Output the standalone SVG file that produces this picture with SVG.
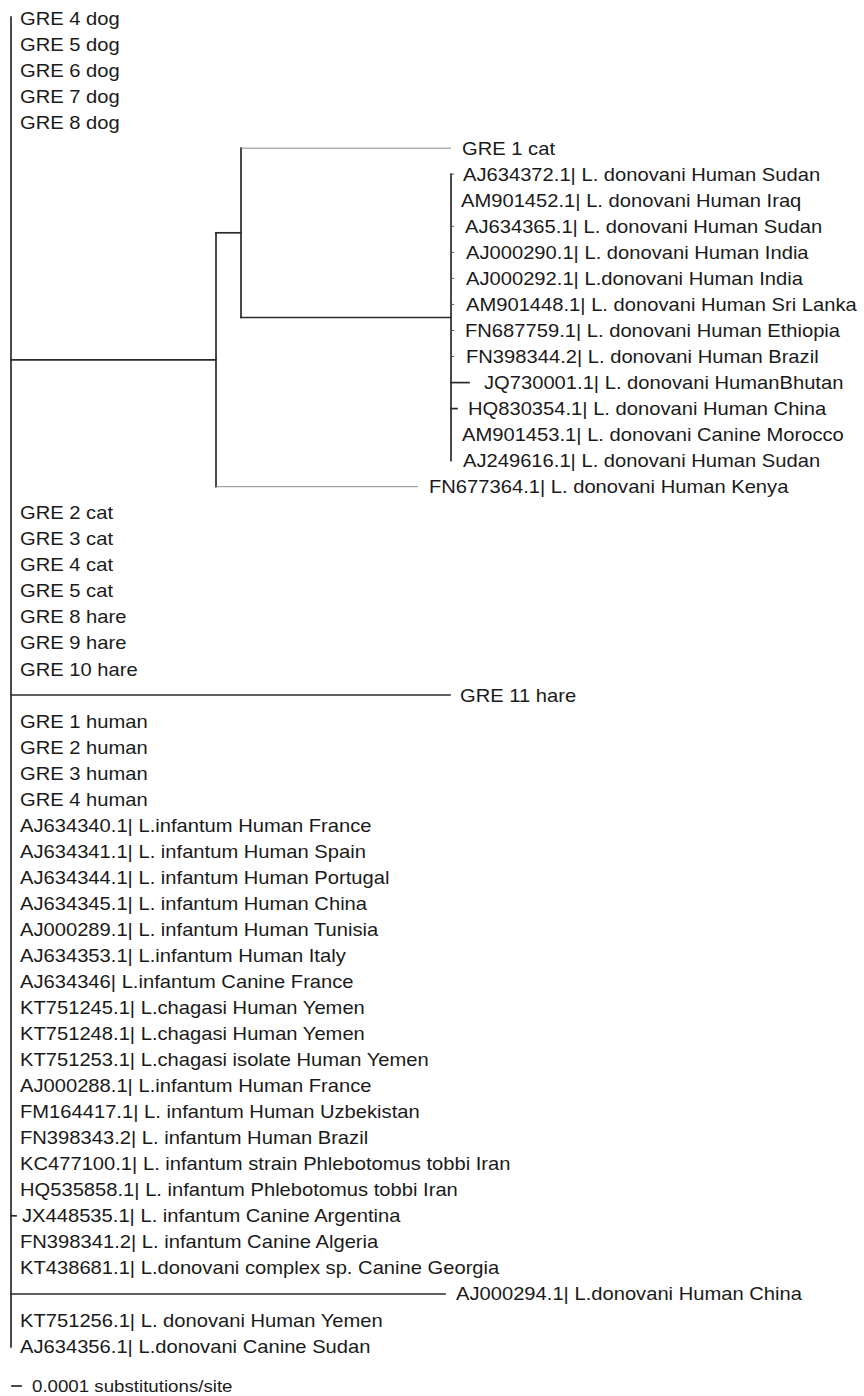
<svg xmlns="http://www.w3.org/2000/svg" width="864" height="1396" viewBox="0 0 864 1396">
<style>
text{font-family:"Liberation Sans",Arial,Helvetica,sans-serif;font-size:18px;fill:#1a1a1a}
.sc{font-size:17px}
.br{stroke:#2a2a2a;stroke-width:1.7;fill:none;stroke-linecap:square}
.th{stroke:#8a8a8a;stroke-width:1;fill:none}
.tk{stroke:#555;stroke-width:1;fill:none}
</style>
<rect width="864" height="1396" fill="#fff"/>
<g id="connectors">
<line class="br" x1="11" y1="17" x2="11" y2="1347"/>
<line class="br" x1="11" y1="359.8" x2="216" y2="359.8"/>
<line class="br" x1="216" y1="232.8" x2="216" y2="486.7"/>
<line class="br" x1="216" y1="232.8" x2="241" y2="232.8"/>
<line class="th" x1="216" y1="486.7" x2="418" y2="486.7"/>
<line class="br" x1="241" y1="148.2" x2="241" y2="317.5"/>
<line class="th" x1="241" y1="148.2" x2="451" y2="148.2"/>
<line class="br" x1="241" y1="317.5" x2="451" y2="317.5"/>
<line class="br" x1="451" y1="174.2" x2="451" y2="460.7"/>
<line class="tk" x1="451" y1="174.2" x2="454" y2="174.2"/>
<line class="tk" x1="451" y1="226.3" x2="454" y2="226.3"/>
<line class="tk" x1="451" y1="252.4" x2="454" y2="252.4"/>
<line class="tk" x1="451" y1="278.4" x2="454" y2="278.4"/>
<line class="tk" x1="451" y1="304.4" x2="454" y2="304.4"/>
<line class="tk" x1="451" y1="330.5" x2="454" y2="330.5"/>
<line class="tk" x1="451" y1="356.5" x2="454" y2="356.5"/>
<line class="br" x1="451" y1="382.6" x2="469" y2="382.6"/>
<line class="br" x1="451" y1="408.6" x2="457" y2="408.6"/>
<line class="br" x1="11" y1="695" x2="450" y2="695"/>
<line class="br" x1="11" y1="1215.8" x2="16" y2="1215.8"/>
<line class="br" x1="11" y1="1294" x2="445" y2="1294"/>
<line class="br" x1="12" y1="1386" x2="21" y2="1386"/>
</g>
<g id="n01" transform="translate(20,24.5) scale(1.12,1)"><text>GRE 4 dog</text></g>
<g id="n02" transform="translate(20,50.54) scale(1.12,1)"><text>GRE 5 dog</text></g>
<g id="n03" transform="translate(20,76.58) scale(1.12,1)"><text>GRE 6 dog</text></g>
<g id="n04" transform="translate(20,102.62) scale(1.12,1)"><text>GRE 7 dog</text></g>
<g id="n05" transform="translate(20,128.66) scale(1.12,1)"><text>GRE 8 dog</text></g>
<g id="n06" transform="translate(462,154.7) scale(1.12,1)"><text>GRE 1 cat</text></g>
<g id="n07" transform="translate(463,180.74) scale(1.12,1)"><text>AJ634372.1| L. donovani Human Sudan</text></g>
<g id="n08" transform="translate(461,206.78) scale(1.12,1)"><text>AM901452.1| L. donovani Human Iraq</text></g>
<g id="n09" transform="translate(465,232.82) scale(1.12,1)"><text>AJ634365.1| L. donovani Human Sudan</text></g>
<g id="n10" transform="translate(466,258.86) scale(1.12,1)"><text>AJ000290.1| L. donovani Human India</text></g>
<g id="n11" transform="translate(466,284.9) scale(1.12,1)"><text>AJ000292.1| L.donovani Human India</text></g>
<g id="n12" transform="translate(466,310.94) scale(1.12,1)"><text>AM901448.1| L. donovani Human Sri Lanka</text></g>
<g id="n13" transform="translate(465,336.98) scale(1.12,1)"><text>FN687759.1| L. donovani Human Ethiopia</text></g>
<g id="n14" transform="translate(466,363.02) scale(1.12,1)"><text>FN398344.2| L. donovani Human Brazil</text></g>
<g id="n15" transform="translate(484,389.06) scale(1.12,1)"><text>JQ730001.1| L. donovani HumanBhutan</text></g>
<g id="n16" transform="translate(468,415.1) scale(1.12,1)"><text>HQ830354.1| L. donovani Human China</text></g>
<g id="n17" transform="translate(462,441.14) scale(1.12,1)"><text>AM901453.1| L. donovani Canine Morocco</text></g>
<g id="n18" transform="translate(463,467.18) scale(1.12,1)"><text>AJ249616.1| L. donovani Human Sudan</text></g>
<g id="n19" transform="translate(429,493.22) scale(1.12,1)"><text>FN677364.1| L. donovani Human Kenya</text></g>
<g id="n20" transform="translate(20,519.26) scale(1.12,1)"><text>GRE 2 cat</text></g>
<g id="n21" transform="translate(20,545.3) scale(1.12,1)"><text>GRE 3 cat</text></g>
<g id="n22" transform="translate(20,571.34) scale(1.12,1)"><text>GRE 4 cat</text></g>
<g id="n23" transform="translate(20,597.38) scale(1.12,1)"><text>GRE 5 cat</text></g>
<g id="n24" transform="translate(20,623.42) scale(1.12,1)"><text>GRE 8 hare</text></g>
<g id="n25" transform="translate(20,649.46) scale(1.12,1)"><text>GRE 9 hare</text></g>
<g id="n26" transform="translate(20,675.5) scale(1.12,1)"><text>GRE 10 hare</text></g>
<g id="n27" transform="translate(460,701.54) scale(1.12,1)"><text>GRE 11 hare</text></g>
<g id="n28" transform="translate(20,727.58) scale(1.12,1)"><text>GRE 1 human</text></g>
<g id="n29" transform="translate(20,753.62) scale(1.12,1)"><text>GRE 2 human</text></g>
<g id="n30" transform="translate(20,779.66) scale(1.12,1)"><text>GRE 3 human</text></g>
<g id="n31" transform="translate(20,805.7) scale(1.12,1)"><text>GRE 4 human</text></g>
<g id="n32" transform="translate(20,831.74) scale(1.12,1)"><text>AJ634340.1| L.infantum Human France</text></g>
<g id="n33" transform="translate(20,857.78) scale(1.12,1)"><text>AJ634341.1| L. infantum Human Spain</text></g>
<g id="n34" transform="translate(20,883.82) scale(1.12,1)"><text>AJ634344.1| L. infantum Human Portugal</text></g>
<g id="n35" transform="translate(20,909.86) scale(1.12,1)"><text>AJ634345.1| L. infantum Human China</text></g>
<g id="n36" transform="translate(20,935.9) scale(1.12,1)"><text>AJ000289.1| L. infantum Human Tunisia</text></g>
<g id="n37" transform="translate(20,961.94) scale(1.12,1)"><text>AJ634353.1| L.infantum Human Italy</text></g>
<g id="n38" transform="translate(20,987.98) scale(1.12,1)"><text>AJ634346| L.infantum Canine France</text></g>
<g id="n39" transform="translate(20,1014.02) scale(1.12,1)"><text>KT751245.1| L.chagasi Human Yemen</text></g>
<g id="n40" transform="translate(20,1040.06) scale(1.12,1)"><text>KT751248.1| L.chagasi Human Yemen</text></g>
<g id="n41" transform="translate(20,1066.1) scale(1.12,1)"><text>KT751253.1| L.chagasi isolate Human Yemen</text></g>
<g id="n42" transform="translate(20,1092.14) scale(1.12,1)"><text>AJ000288.1| L.infantum Human France</text></g>
<g id="n43" transform="translate(20,1118.18) scale(1.12,1)"><text>FM164417.1| L. infantum Human Uzbekistan</text></g>
<g id="n44" transform="translate(20,1144.22) scale(1.12,1)"><text>FN398343.2| L. infantum Human Brazil</text></g>
<g id="n45" transform="translate(20,1170.26) scale(1.12,1)"><text>KC477100.1| L. infantum strain Phlebotomus tobbi Iran</text></g>
<g id="n46" transform="translate(20,1196.3) scale(1.12,1)"><text>HQ535858.1| L. infantum Phlebotomus tobbi Iran</text></g>
<g id="n47" transform="translate(22,1222.34) scale(1.12,1)"><text>JX448535.1| L. infantum Canine Argentina</text></g>
<g id="n48" transform="translate(20,1248.38) scale(1.12,1)"><text>FN398341.2| L. infantum Canine Algeria</text></g>
<g id="n49" transform="translate(20,1274.42) scale(1.12,1)"><text>KT438681.1| L.donovani complex sp. Canine Georgia</text></g>
<g id="n50" transform="translate(456,1300.46) scale(1.12,1)"><text>AJ000294.1| L.donovani Human China</text></g>
<g id="n51" transform="translate(20,1326.5) scale(1.12,1)"><text>KT751256.1| L. donovani Human Yemen</text></g>
<g id="n52" transform="translate(20,1352.54) scale(1.12,1)"><text>AJ634356.1| L.donovani Canine Sudan</text></g>
<g id="scale" transform="translate(32,1392) scale(1.1,1)"><text class="sc">0.0001 substitutions/site</text></g>
</svg>
